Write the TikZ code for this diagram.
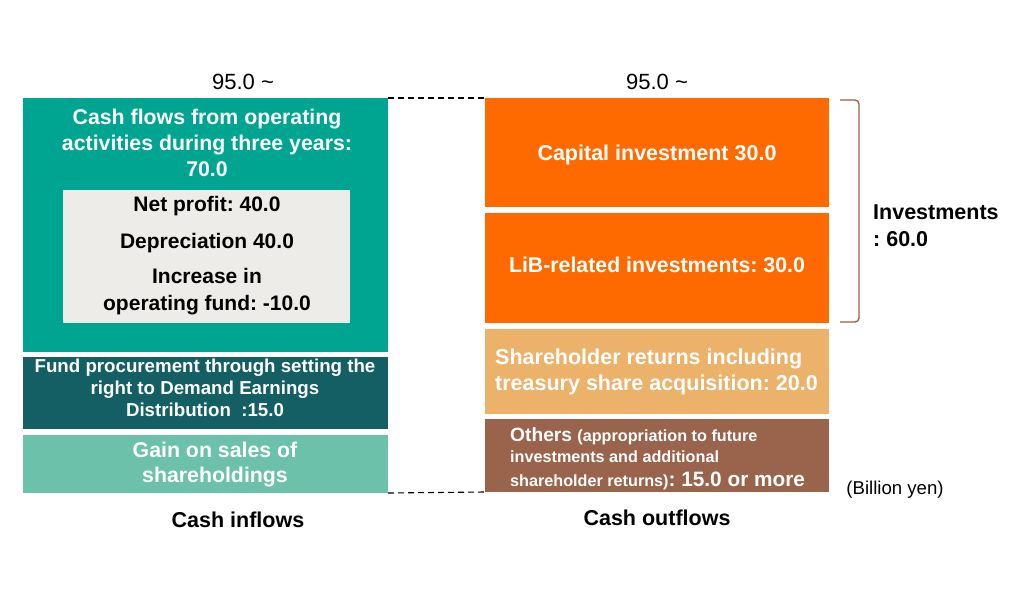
\documentclass[tikz,border=0pt]{standalone}
\usepackage{fontspec}
\setmainfont{Liberation Sans}
\frenchspacing
\definecolor{cteal}{HTML}{00A591}
\definecolor{cdteal}{HTML}{135F63}
\definecolor{clteal}{HTML}{6CC1AB}
\definecolor{cgrey}{HTML}{EEECE9}
\definecolor{corange}{HTML}{FF6A00}
\definecolor{clorange}{HTML}{EDB26A}
\definecolor{cbrown}{HTML}{9A644C}
\definecolor{cbracket}{HTML}{9B5A44}
\newcommand{\fs}[2]{\fontsize{#1}{#2}\selectfont}
\begin{document}
\begin{tikzpicture}[x=1pt,y=-1pt,
  blk/.style={draw=none, inner sep=0pt, outer sep=0pt, anchor=north west},
  wtxt/.style={text=white, align=center, inner sep=0pt},
  btxt/.style={text=black, align=center, inner sep=0pt},
  conn/.style={draw=black, line width=1.1pt, dash pattern=on 6pt off 4pt},
  brk/.style={draw=cbracket, line width=1.3pt, rounded corners=4pt}]
\useasboundingbox (0,0) rectangle (1020,600);
% left column
\node[blk, fill=cteal, minimum width=365pt, minimum height=254pt] (cfo) at (23,98) {};
\node[blk, fill=cgrey, minimum width=287pt, minimum height=133pt] (inner) at (63,190) {};
\node[blk, fill=cdteal, minimum width=365pt, minimum height=72pt] (fund) at (23,357) {};
\node[blk, fill=clteal, minimum width=365pt, minimum height=58pt] (gain) at (23,435) {};
% right column
\node[blk, fill=corange, minimum width=344pt, minimum height=109pt] (cap) at (485,98) {};
\node[blk, fill=corange, minimum width=344pt, minimum height=110pt] (lib) at (485,213) {};
\node[blk, fill=clorange, minimum width=344pt, minimum height=85pt] (share) at (485,329) {};
\node[blk, fill=cbrown, minimum width=344pt, minimum height=73pt] (oth) at (485,419) {};
% texts left
\node[wtxt, font={\bfseries\fs{21.3}{26}}] (tcfo) at (207,143) {Cash flows from operating\\activities during three years:\\70.0};
\node[btxt, font={\bfseries\fs{21}{24}}] (t1) at (207,206) {Net profit: 40.0};
\node[btxt, font={\bfseries\fs{21}{24}}] (t2) at (207,243) {Depreciation 40.0};
\node[btxt, font={\bfseries\fs{21}{27}}] (t3) at (207,292) {Increase in\\operating fund: -10.0};
\node[wtxt, font={\bfseries\fs{18.7}{21.7}}] (tfund) at (205,388) {Fund procurement through setting the\\right to Demand Earnings\\Distribution\ \ :15.0};
\node[wtxt, font={\bfseries\fs{21.3}{25}}] (tgain) at (215,465) {Gain on sales of\\shareholdings};
% texts right
\node[wtxt, font={\bfseries\fs{21.5}{25}}] (tcap) at (657,155) {Capital investment 30.0};
\node[wtxt, font={\bfseries\fs{21.3}{25}}] (tlib) at (657,265) {LiB-related investments: 30.0};
\node[wtxt, align=left, anchor=west, font={\bfseries\fs{21.5}{26.7}}] (tshare) at (495,372) {Shareholder returns including\\treasury share acquisition: 20.0};
\node[wtxt, anchor=base west, font=\bfseries] (to1) at (510,441) {\fs{19.2}{20}Others \fs{16.2}{18}(appropriation to future};
\node[wtxt, anchor=base west, font=\bfseries] (to2) at (510,462) {\fs{16.2}{18}investments and additional};
\node[wtxt, anchor=base west, font=\bfseries] (to3) at (510,486) {\fs{16.2}{18}shareholder returns)\fs{20.8}{22}: 15.0 or more};
% labels
\node[inner sep=0pt, font={\fs{22}{26}}] (hl) at (243,82) {95.0 \textasciitilde};
\node[inner sep=0pt, font={\fs{22}{26}}] (hr) at (657,82) {95.0 \textasciitilde};
\node[btxt, font={\bfseries\fs{21.5}{26}}] (lin) at (238,520) {Cash inflows};
\node[btxt, font={\bfseries\fs{21.5}{26}}] (lout) at (657,518) {Cash outflows};
\node[inner sep=0pt, font={\fs{18.6}{22}}] (unit) at (895,490) {(Billion yen)};
\node[btxt, align=left, anchor=west, font={\bfseries\fs{21.5}{27}}] (inv) at (873,226) {Investments\\: 60.0};
% connectors
\draw[conn] (cfo.north east) -- (cap.north west);
\draw[conn] (gain.south east) -- (oth.south west);
% bracket
\coordinate (b1) at (840,100);
\coordinate (b2) at (859,100);
\coordinate (b3) at (859,322);
\coordinate (b4) at (840,322);
\draw[brk] (b1) -- (b2) -- (b3) -- (b4);
\end{tikzpicture}
\end{document}
